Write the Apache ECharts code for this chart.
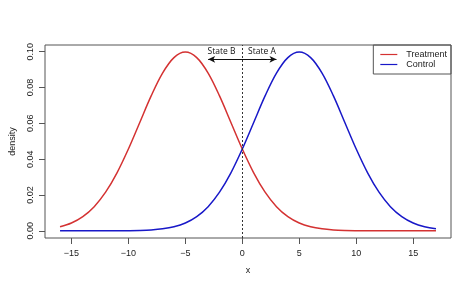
<!DOCTYPE html>
<html>
<head>
<meta charset="utf-8">
<script src="https://cdn.jsdelivr.net/npm/echarts@6/dist/echarts.min.js"></script>
<style>html,body{margin:0;padding:0;background:#fff}#c{width:474px;height:294px}</style>
</head>
<body>
<div id="c"></div>
<script>
const xValues = [-16,-15,-14,-13,-12,-11,-10,-9,-8,-7,-6,-5,-4,-3,-2,-1,0,1,2,3,4,5,6,7,8,9,10,11,12,13,14,15,16,17];
const treatment = [0.00227,0.00438,0.00794,0.01350,0.02157,0.03238,0.04566,0.06049,0.07529,0.08802,0.09667,0.09974,0.09667,0.08802,0.07529,0.06049,0.04566,0.03238,0.02157,0.01350,0.00794,0.00438,0.00227,0.00111,0.00051,0.00022,0.00009,0.00003,0.00001,0,0,0,0,0];
const control = [0,0,0,0,0.00001,0.00003,0.00009,0.00022,0.00051,0.00111,0.00227,0.00438,0.00794,0.01350,0.02157,0.03238,0.04566,0.06049,0.07529,0.08802,0.09667,0.09974,0.09667,0.08802,0.07529,0.06049,0.04566,0.03238,0.02157,0.01350,0.00794,0.00438,0.00227,0.00111];
const xTicks = [-15,-10,-5,0,5,10,15];
const yTicks = [0,0.02,0.04,0.06,0.08,0.10];
const seriesNames = ['Treatment','Control'];
const stateLabels = ['State B','State A'];
const arrowEnds = [-3,3];
const arrowY = 0.0957;
const labelY = 0.1003;

const FONT = '"Liberation Sans", Arial, sans-serif';
const red = '#d43232';
const blue = '#1818c8';
const axisCol = '#555';

const chart = echarts.init(document.getElementById('c'), null, {renderer:'canvas'});
const pair = arr => xValues.map((x,i)=>[x,arr[i]]);

chart.setOption({
  animation:false,
  textStyle:{fontFamily:FONT},
  grid:{left:45,right:23,top:45,bottom:56,show:true,borderColor:axisCol,borderWidth:1,containLabel:false},
  xAxis:{
    type:'value',min:-17.32,max:18.32,
    name:'x',nameLocation:'middle',nameGap:28,
    nameTextStyle:{fontSize:9,color:'#222',fontFamily:FONT},
    axisLine:{show:false,onZero:false},
    splitLine:{show:false},
    axisTick:{show:true,length:6,inside:false,lineStyle:{color:axisCol},customValues:xTicks},
    axisLabel:{fontSize:9,color:'#222',margin:11,fontFamily:FONT,customValues:xTicks,
      formatter:v=>(v<0?'\u2212'+Math.abs(v):String(v))}
  },
  yAxis:{
    type:'value',min:-0.00399,max:0.1037,
    name:'density',nameLocation:'middle',nameGap:28,
    nameTextStyle:{fontSize:9,color:'#222',fontFamily:FONT},
    axisLine:{show:false,onZero:false},
    splitLine:{show:false},
    axisTick:{show:true,length:6,inside:false,lineStyle:{color:axisCol},customValues:yTicks},
    axisLabel:{fontSize:9,color:'#222',margin:10,rotate:90,fontFamily:FONT,customValues:yTicks,
      formatter:v=>v.toFixed(2)}
  },
  legend:{
    orient:'vertical',right:23,top:45,
    borderColor:axisCol,borderWidth:1,borderRadius:0,
    padding:[5,4,5,7],itemGap:1,itemWidth:17,itemHeight:1.2,
    icon:'rect',
    textStyle:{fontSize:9,color:'#222',fontFamily:FONT,padding:[0,0,0,4]},
    data:[{name:seriesNames[0],itemStyle:{color:red}},{name:seriesNames[1],itemStyle:{color:blue}}]
  },
  series:[
    {
      name:seriesNames[0],type:'line',data:pair(treatment),smooth:0.35,
      showSymbol:false,lineStyle:{color:red,width:1.5},itemStyle:{color:red},
      markLine:{
        silent:true,symbol:['none','none'],label:{show:false},
        lineStyle:{color:'#333',type:[2,2],width:1},
        data:[{xAxis:0}]
      }
    },
    {
      name:seriesNames[1],type:'line',data:pair(control),smooth:0.35,
      showSymbol:false,lineStyle:{color:blue,width:1.5},itemStyle:{color:blue},
      markLine:{
        silent:true,symbol:['arrow','arrow'],symbolSize:[5,7],label:{show:false},
        lineStyle:{color:'#111',type:'solid',width:1},
        data:[[{coord:[arrowEnds[0],arrowY]},{coord:[arrowEnds[1],arrowY]}]]
      },
      markPoint:{
        silent:true,symbol:'circle',symbolSize:0,
        data:[
          {coord:[-0.6,labelY],label:{show:true,formatter:stateLabels[0],position:'left',distance:0,fontSize:8.5,color:'#111',fontFamily:'"Open Sans", "DejaVu Sans", sans-serif'}},
          {coord:[0.5,labelY],label:{show:true,formatter:stateLabels[1],position:'right',distance:0,fontSize:8.5,color:'#111',fontFamily:'"Open Sans", "DejaVu Sans", sans-serif'}}
        ]
      }
    }
  ]
});
</script>
</body>
</html>
